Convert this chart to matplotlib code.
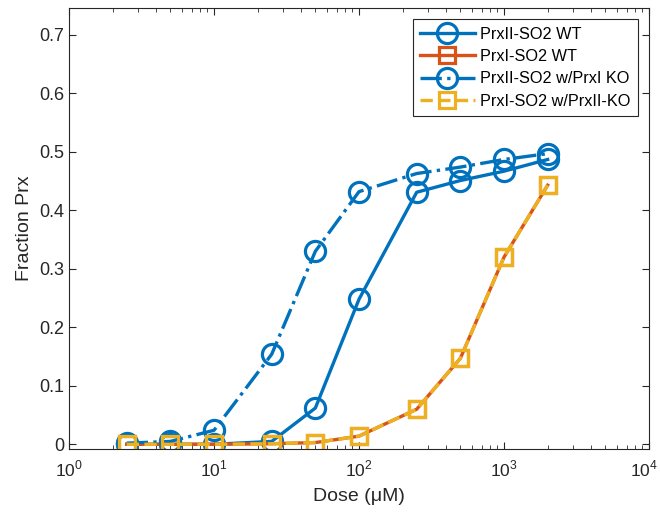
import numpy as np
import matplotlib
matplotlib.use('Agg')
import matplotlib.pyplot as plt
import matplotlib.transforms as mtransforms
from matplotlib.ticker import LogLocator, FixedLocator

plt.rcParams['font.family'] = ['Liberation Sans', 'DejaVu Sans']
plt.rcParams['mathtext.fontset'] = 'custom'
plt.rcParams['mathtext.rm'] = 'Liberation Sans'

# dose levels (uM)
dose = [2.5, 5, 10, 25, 50, 100, 250, 500, 1000, 2000]

# fraction of Prx hyperoxidised
prx2_wt = [0.0, 0.0, 0.0, 0.005, 0.062, 0.248, 0.431, 0.451, 0.467, 0.487]
prx1_wt = [0.0, 0.0, 0.0, 0.001, 0.003, 0.014, 0.060, 0.147, 0.320, 0.443]
prx2_prx1ko = [0.002, 0.005, 0.024, 0.154, 0.330, 0.432, 0.463, 0.474, 0.487, 0.497]
prx1_prx2ko = [0.0, 0.0, 0.0, 0.001, 0.003, 0.014, 0.060, 0.147, 0.320, 0.443]

labels = ['PrxII-SO2 WT', 'PrxI-SO2 WT', 'PrxII-SO2 w/PrxI KO', 'PrxI-SO2 w/PrxII-KO']
xticks = [1, 10, 100, 1000, 10000]
xticklabels = [r'$10^{0}$', r'$10^{1}$', r'$10^{2}$', r'$10^{3}$', r'$10^{4}$']

blue = '#0072BD'
orange = '#D95319'
yellow = '#EDB120'

fig = plt.figure(figsize=(6.6, 5.12), dpi=100)
ax = fig.add_axes([69 / 660, 1 - 449 / 512, 580 / 660, 441 / 512])

lw = 2.4
ax.plot(dose, prx2_wt, '-', color=blue, lw=lw, marker='o', ms=14.5,
        mfc='none', mew=2.3, label=labels[0])
ax.plot(dose, prx1_wt, '-', color=orange, lw=lw, marker='s', ms=11.5,
        mfc='none', mew=2.3, label=labels[1])
ax.plot(dose, prx2_prx1ko, '-.', color=blue, lw=lw, marker='o', ms=14.5,
        mfc='none', mew=2.3, label=labels[2])
ax.plot(dose, prx1_prx2ko, '--', color=yellow, lw=lw, marker='s', ms=11.5,
        mfc='none', mew=2.3, label=labels[3])

ax.set_xscale('log')
ax.set_xlim(1, 1e4)
ax.set_ylim(-0.008, 0.746)
ax.set_xticks(xticks)
ax.set_xticklabels(xticklabels)
ax.yaxis.set_major_locator(FixedLocator([0, 0.1, 0.2, 0.3, 0.4, 0.5, 0.6, 0.7]))
ax.set_yticklabels(['0', '0.1', '0.2', '0.3', '0.4', '0.5', '0.6', '0.7'])
ax.xaxis.set_minor_locator(LogLocator(base=10, subs=np.arange(2, 10)))

axcol = '#262626'
for s in ax.spines.values():
    s.set_color(axcol)
    s.set_linewidth(0.8)
ax.tick_params(which='both', direction='in', top=True, right=True,
               colors=axcol, labelsize=13)
ax.tick_params(axis='x', which='both', labelsize=12.5, pad=7)
ax.tick_params(which='major', length=5)
ax.tick_params(which='minor', length=3)

# nudge the last x label so it stays inside the figure
last = ax.get_xticklabels()[-1]
last.set_transform(last.get_transform() +
                   mtransforms.ScaledTranslation(-5 / 100, 0, fig.dpi_scale_trans))

ax.set_xlabel('Dose (\u03bcM)', fontsize=14, color=axcol, labelpad=6)
ax.set_ylabel('Fraction Prx', fontsize=14, color=axcol)

leg = ax.legend(loc='upper right', fontsize=11.7, fancybox=False,
                framealpha=1, edgecolor=axcol, handlelength=3.4,
                borderaxespad=0.7, labelspacing=0.45, borderpad=0.45,
                handletextpad=0.3)
leg.get_frame().set_linewidth(0.8)

fig.savefig('out.png', dpi=100)
